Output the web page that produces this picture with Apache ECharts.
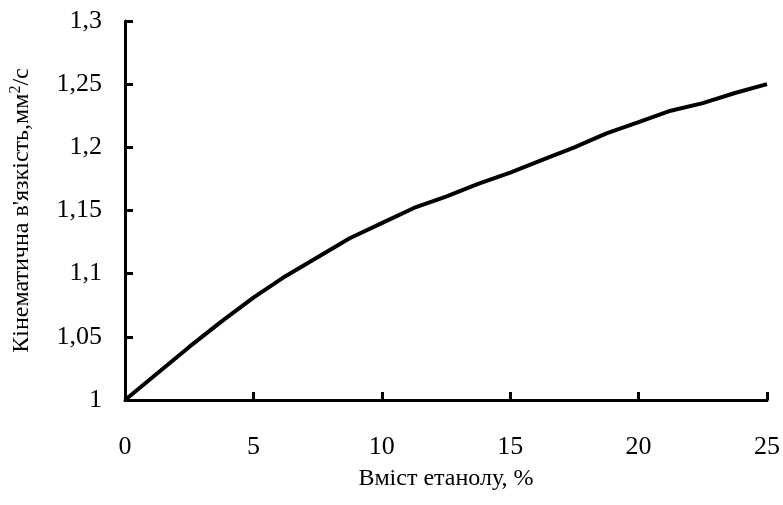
<!DOCTYPE html>
<html>
<head>
<meta charset="utf-8">
<script src="https://cdn.jsdelivr.net/npm/echarts@6/dist/echarts.min.js"></script>
<style>
html,body{margin:0;padding:0;background:#fff;}
#chart{width:783px;height:505px;}
</style>
</head>
<body>
<div id="chart"></div>
<script>
// Ethanol content, %
const ethanol = [0, 1.25, 2.5, 3.75, 5, 6.25, 7.5, 8.75, 10, 11.25, 12.5, 13.75, 15, 16.25, 17.5, 18.75, 20, 21.25, 22.5, 23.75, 25];
// Kinematic viscosity, mm²/s
const viscosity = [1.000, 1.021, 1.042, 1.062, 1.081, 1.098, 1.113, 1.128, 1.140, 1.152, 1.161, 1.171, 1.180, 1.190, 1.200, 1.211, 1.220, 1.229, 1.235, 1.243, 1.250];
const xTicks = [0, 5, 10, 15, 20, 25];
const yTicks = [1, 1.05, 1.1, 1.15, 1.2, 1.25, 1.3];

const font = "'Liberation Serif', 'Times New Roman', serif";
const chart = echarts.init(document.getElementById('chart'));
chart.setOption({
  animation: false,
  backgroundColor: '#fff',
  grid: { left: 122, right: 15, top: 21, bottom: 105, containLabel: false },
  xAxis: {
    type: 'value',
    min: xTicks[0], max: xTicks[xTicks.length - 1], interval: 5,
    name: 'Вміст етанолу, %',
    nameLocation: 'middle',
    nameGap: 67,
    nameTextStyle: { fontFamily: font, fontSize: 24, color: '#000' },
    axisLine: { show: true, onZero: false, lineStyle: { color: '#000', width: 3 } },
    axisTick: { show: true, inside: true, length: 8, lineStyle: { color: '#000', width: 3 } },
    axisLabel: { fontFamily: font, fontSize: 26, color: '#000', margin: 34 },
    splitLine: { show: false }
  },
  yAxis: {
    type: 'value',
    min: yTicks[0], max: yTicks[yTicks.length - 1], interval: 0.05,
    name: "Кінематична в'язкість,мм{sup|2}/с",
    nameLocation: 'middle',
    nameGap: 89,
    nameTextStyle: { fontFamily: font, fontSize: 24, color: '#000',
      rich: { sup: { fontFamily: font, fontSize: 16, color: '#000', verticalAlign: 'top', padding: [0, 0, 12, 0] } } },
    axisLine: { show: true, lineStyle: { color: '#000', width: 3 } },
    axisTick: { show: true, inside: true, length: 8, lineStyle: { color: '#000', width: 3 } },
    axisLabel: { fontFamily: font, fontSize: 26, color: '#000', margin: 23,
      formatter: v => String(+v.toFixed(2)).replace('.', ',') },
    splitLine: { show: false }
  },
  series: [{
    type: 'line',
    data: ethanol.map((x, i) => [x, viscosity[i]]),
    showSymbol: false,
    symbol: 'none',
    lineStyle: { color: '#000', width: 4 },
    clip: false
  }]
});
</script>
</body>
</html>
